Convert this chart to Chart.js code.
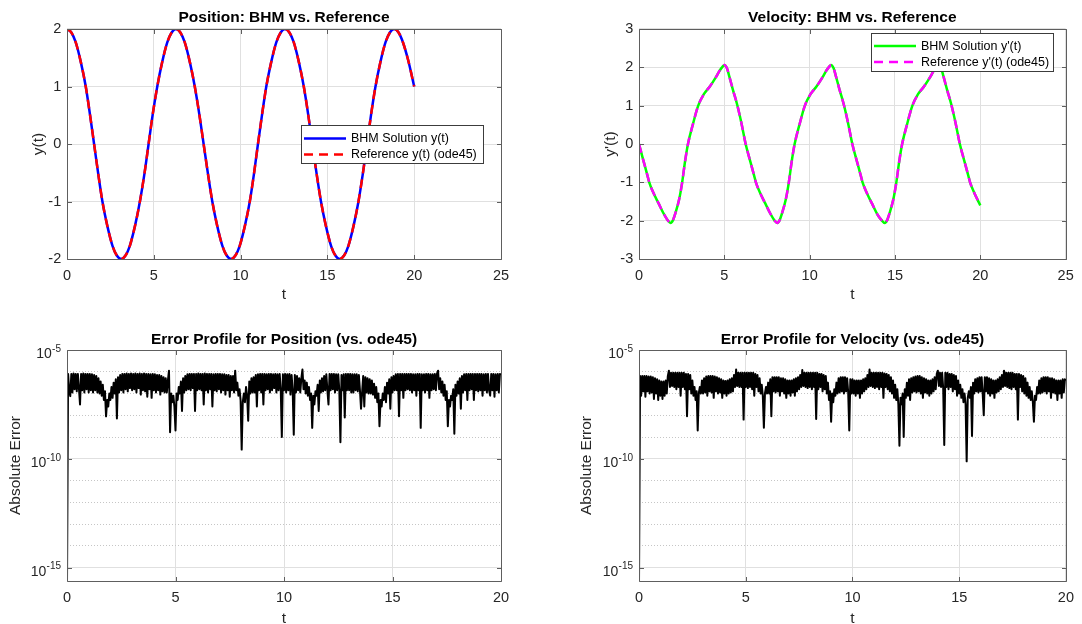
<!DOCTYPE html>
<html><head><meta charset="utf-8">
<script src="https://cdn.jsdelivr.net/npm/chart.js@4.4.1/dist/chart.umd.min.js"></script>
<style>
html,body{margin:0;padding:0;background:#fff;overflow:hidden;width:1082px;height:624px;}
canvas{position:absolute;}
</style></head><body>
<canvas id="c1" width="541" height="304" style="left:0;top:0;width:541px;height:304px"></canvas>
<canvas id="c2" width="541" height="304" style="left:541px;top:0;width:541px;height:304px"></canvas>
<canvas id="c3" width="541" height="320" style="left:0;top:310px;width:541px;height:320px"></canvas>
<canvas id="c4" width="541" height="320" style="left:541px;top:310px;width:541px;height:320px"></canvas>
<script>
// ---------------- data ----------------
const titles = ['Position: BHM vs. Reference', 'Velocity: BHM vs. Reference',
                'Error Profile for Position (vs. ode45)', 'Error Profile for Velocity (vs. ode45)'];
const posLabels = ['BHM Solution y(t)', 'Reference y(t) (ode45)'];
const velLabels = ["BHM Solution y'(t)", "Reference y'(t) (ode45)"];

const xTicksTop = [0, 5, 10, 15, 20, 25];
const xTicksBottom = [0, 5, 10, 15, 20];
const posYTicks = [-2, -1, 0, 1, 2];
const velYTicks = [-3, -2, -1, 0, 1, 2, 3];
const errDecades = [-15, -14, -13, -12, -11, -10, -9, -8, -7, -6, -5];
const errLabelDecades = [-15, -10, -5];

// position y(t)
const tPos = [0,0.25,0.5,0.8,1.08,1.32,1.56,1.8,2.04,2.32,2.62,2.87,3.12,
  3.37,3.62,3.92,4.2,4.46,4.7,4.94,5.2,5.48,5.78,6.03,6.28,
  6.53,6.78,7.08,7.36,7.62,7.87,8.12,8.37,8.65,8.95,9.2,9.45,
  9.7,9.95,10.25,10.53,10.77,11.0,11.24,11.48,11.76,12.06,12.31,12.56,
  12.81,13.06,13.36,13.64,13.89,14.13,14.38,14.63,14.91,15.21,15.46,15.71,
  15.96,16.21,16.51,16.79,17.04,17.28,17.52,17.77,18.05,18.35,18.6,18.85,
  19.1,19.35,19.65,20.0];
const yPos = [2,1.94,1.77,1.42,1.0,0.52,0,-0.52,-1.0,-1.42,-1.77,-1.94,-2,
  -1.94,-1.77,-1.42,-1.0,-0.52,0,0.52,1.0,1.42,1.77,1.94,2,
  1.94,1.77,1.42,1.0,0.52,0,-0.52,-1.0,-1.42,-1.77,-1.94,-2,
  -1.94,-1.77,-1.42,-1.0,-0.52,0,0.52,1.0,1.42,1.77,1.94,2,
  1.94,1.77,1.42,1.0,0.52,0,-0.52,-1.0,-1.42,-1.77,-1.94,-2,
  -1.94,-1.77,-1.42,-1.0,-0.52,0,0.52,1.0,1.42,1.77,1.94,2,
  1.94,1.77,1.46,1.0];

// velocity y'(t)
const tVel = [0,0.25,0.5,0.6,0.85,1.15,1.45,1.7,1.85,
  2.0,2.15,2.35,2.53,2.7,2.87,3.15,3.47,3.8,4.15,4.5,4.75,4.9,5.0,
  5.15,5.3,5.5,5.75,6.0,6.25,6.5,6.75,6.85,7.1,7.4,7.7,7.95,8.1,
  8.25,8.4,8.6,8.78,8.95,9.12,9.4,9.72,10.05,10.4,10.75,11.0,11.15,11.25,
  11.4,11.55,11.75,12.0,12.25,12.5,12.75,13.0,13.1,13.35,13.65,13.95,14.2,14.4,
  14.55,14.7,14.9,15.08,15.25,15.42,15.7,16.02,16.35,16.7,17.05,17.3,17.45,17.55,
  17.7,17.85,18.05,18.3,18.55,18.8,19.05,19.3,19.4,19.65,20.0];
const yVel = [0,-0.42,-0.83,-1.0,-1.28,-1.55,-1.82,-2.0,-2.06,
  -1.98,-1.78,-1.45,-1.0,-0.45,0,0.5,1.0,1.3,1.5,1.74,1.93,2.02,2.06,
  1.98,1.75,1.42,1.03,0.55,0,-0.42,-0.83,-1.0,-1.28,-1.55,-1.82,-2.0,-2.06,
  -1.98,-1.78,-1.45,-1.0,-0.45,0,0.5,1.0,1.3,1.5,1.74,1.93,2.02,2.06,
  1.98,1.75,1.42,1.03,0.55,0,-0.42,-0.83,-1.0,-1.28,-1.55,-1.82,-1.98,-2.06,
  -1.98,-1.78,-1.45,-1.0,-0.45,0,0.5,1.0,1.3,1.5,1.74,1.93,2.02,2.06,
  1.98,1.75,1.42,1.03,0.55,0,-0.42,-0.83,-1.0,-1.28,-1.6];

// absolute errors (log10), sampled every 0.05 in t from 0 to 20 (one row per unit of t)
const tErrStep = 0.05;
const posErrLog10 = [
  -15.7,-6.1,-6.85,-7.12,-6.1,-6.95,-6.08,-6.8,-6.1,-6.9,-6.1,-6.75,-7.5,-6.1,-6.85,-6.08,-6.95,-6.1,-6.8,-6.1,
  -6.95,-6.1,-6.85,-6.12,-6.95,-6.15,-6.85,-6.2,-6.95,-6.3,-7.0,-6.45,-7.1,-6.6,-7.3,-6.9,-8.05,-7.3,-7.6,-7.0,
  -7.3,-6.7,-7.2,-6.5,-7.0,-6.35,-8.15,-6.25,-6.95,-6.15,-6.85,-6.1,-6.95,-6.1,-6.8,-6.08,-6.9,-6.1,-6.75,-6.08,
  -6.85,-6.1,-6.8,-6.08,-6.95,-6.1,-6.75,-6.08,-7.05,-6.1,-6.85,-6.08,-6.9,-6.1,-7.15,-6.1,-6.8,-6.12,-7.2,-6.1,
  -6.85,-6.12,-6.95,-6.15,-6.85,-6.15,-7.05,-6.2,-6.9,-6.25,-6.95,-6.3,-6.95,-6.4,-5.95,-8.78,-7.0,-7.4,-7.1,-7.6,
  -8.7,-7.0,-7.3,-6.7,-7.0,-6.45,-7.8,-6.3,-6.95,-6.2,-6.85,-6.12,-6.8,-6.1,-6.85,-6.1,-6.75,-6.1,-7.8,-6.1,
  -6.85,-6.08,-6.8,-6.1,-6.85,-6.1,-7.5,-6.08,-6.85,-6.1,-6.95,-6.1,-6.8,-6.1,-7.6,-6.12,-6.85,-6.1,-6.9,-6.1,
  -6.8,-6.1,-6.95,-6.12,-6.85,-6.12,-7.05,-6.15,-6.85,-6.15,-7.15,-6.2,-6.85,-6.2,-6.95,-5.95,-6.85,-6.5,-7.1,-6.8,
  -7.3,-9.58,-7.4,-7.0,-7.4,-6.7,-7.1,-8.25,-6.45,-7.0,-6.3,-6.95,-6.25,-6.95,-6.15,-7.6,-6.12,-6.85,-6.1,-6.95,
  -6.1,-7.5,-6.1,-6.85,-6.12,-6.8,-6.1,-6.95,-6.1,-6.85,-6.12,-6.75,-6.1,-6.95,-6.12,-6.85,-6.1,-6.8,-9.0,-6.12,
  -6.85,-6.1,-6.95,-6.12,-6.85,-6.1,-7.05,-6.15,-6.85,-8.9,-6.15,-6.95,-6.2,-6.85,-6.3,-6.95,-6.3,-5.9,-6.8,-6.4,
  -7.0,-6.5,-7.1,-6.7,-7.3,-7.0,-8.58,-7.1,-7.5,-6.9,-7.1,-6.6,-7.8,-6.4,-6.95,-6.3,-6.9,-6.2,-6.85,-6.12,
  -6.85,-7.5,-6.1,-6.85,-6.1,-6.8,-6.1,-6.95,-6.12,-6.85,-6.12,-6.85,-9.24,-6.15,-6.85,-6.12,-8.1,-6.1,-6.85,-6.1,
  -6.85,-6.1,-6.95,-6.12,-6.95,-6.12,-6.85,-6.12,-6.9,-6.15,-6.85,-7.7,-6.95,-6.2,-7.6,-6.25,-6.95,-6.3,-7.0,-6.35,
  -7.0,-6.4,-7.05,-6.55,-7.2,-6.7,-7.4,-7.0,-8.5,-7.3,-7.6,-7.0,-7.3,-6.7,-7.4,-6.5,-7.0,-6.35,-7.7,-6.25,
  -6.95,-6.2,-6.85,-6.12,-6.85,-6.1,-8.05,-6.1,-6.85,-6.1,-7.2,-6.1,-6.85,-6.1,-6.8,-6.1,-6.85,-6.1,-6.95,-6.12,
  -6.85,-6.12,-7.1,-6.1,-6.85,-6.1,-8.58,-6.12,-6.85,-6.12,-6.95,-6.1,-6.85,-6.1,-7.2,-6.12,-6.85,-6.12,-6.8,-6.1,
  -6.85,-6.1,-5.95,-6.8,-6.3,-6.95,-6.45,-7.1,-6.6,-7.3,-6.9,-8.5,-7.3,-7.6,-7.1,-7.3,-6.8,-8.85,-6.6,-7.1,
  -6.45,-7.0,-6.3,-7.7,-6.2,-6.95,-6.12,-6.85,-6.1,-7.3,-6.1,-6.85,-6.1,-6.8,-6.1,-7.3,-6.1,-6.85,-6.1,-6.9,
  -6.1,-6.85,-6.1,-7.1,-6.12,-6.85,-6.1,-6.95,-6.1,-6.85,-7.1,-6.1,-6.85,-6.1,-7.15,-6.12,-6.85,-6.1,-6.95,-6.1,
  -6.15];
const velErrLog10 = [
  -15.7,-6.2,-7.1,-6.2,-6.9,-6.2,-7.15,-6.2,-6.9,-6.22,-7.0,-6.22,-6.95,-6.25,-7.25,-6.3,-7.0,-6.35,-7.3,-6.4,
  -7.1,-6.45,-7.25,-6.45,-7.1,-6.4,-7.0,-6.2,-5.95,-6.7,-6.05,-6.65,-6.05,-6.7,-6.05,-6.8,-6.05,-6.7,-6.05,-7.1,
  -6.05,-6.7,-6.05,-6.8,-6.1,-8.05,-6.1,-6.8,-6.15,-7.0,-6.4,-7.1,-6.7,-7.3,-6.9,-8.7,-7.0,-6.7,-7.0,-6.4,
  -7.0,-6.3,-6.95,-6.22,-7.1,-6.2,-6.9,-6.2,-6.95,-6.2,-7.2,-6.22,-6.9,-6.25,-7.0,-6.3,-6.95,-6.35,-7.2,-6.4,
  -7.0,-6.42,-7.1,-6.4,-7.0,-6.35,-6.95,-6.3,-6.9,-6.15,-6.7,-5.9,-6.65,-6.05,-6.7,-6.05,-6.7,-6.05,-8.2,-6.05,
  -6.7,-6.05,-6.75,-6.05,-6.7,-6.05,-6.8,-6.05,-7.1,-6.1,-6.7,-6.15,-6.9,-6.3,-7.0,-6.6,-7.1,-8.57,-7.0,-6.7,
  -7.0,-6.5,-7.0,-6.35,-8.05,-6.25,-6.9,-6.25,-6.95,-6.25,-6.9,-6.25,-7.1,-6.3,-6.9,-6.3,-7.0,-6.35,-7.2,-6.4,
  -7.0,-6.4,-7.1,-6.4,-6.95,-6.35,-7.1,-6.3,-6.9,-6.25,-6.8,-6.15,-6.7,-5.92,-6.65,-6.05,-6.7,-6.05,-6.75,-6.05,
  -6.7,-6.05,-6.8,-6.05,-6.7,-6.05,-8.17,-6.05,-6.8,-6.1,-6.7,-6.1,-6.9,-6.15,-6.8,-6.2,-7.0,-6.5,-7.3,-6.9,
  -8.3,-7.0,-7.4,-6.8,-7.1,-6.5,-7.0,-6.3,-6.95,-6.25,-6.9,-6.25,-7.0,-6.25,-6.9,-6.3,-6.95,-8.7,-6.35,-7.0,
  -6.35,-7.0,-6.4,-7.1,-6.4,-7.0,-6.4,-7.2,-6.4,-7.0,-6.35,-6.9,-6.3,-6.8,-6.15,-6.7,-5.9,-6.65,-6.05,-6.7,
  -6.05,-6.75,-6.05,-6.7,-6.05,-6.8,-6.05,-6.7,-6.05,-7.2,-6.08,-6.7,-6.1,-6.8,-6.15,-6.9,-6.25,-7.0,-6.4,-7.2,
  -6.6,-7.3,-6.8,-7.5,-9.4,-7.2,-7.5,-7.0,-9.0,-6.8,-7.2,-6.5,-7.1,-6.35,-7.3,-6.3,-6.95,-6.25,-6.9,-6.22,
  -6.95,-6.2,-6.9,-6.2,-7.0,-6.25,-7.2,-6.3,-6.95,-6.35,-7.0,-6.4,-7.1,-6.4,-7.0,-6.35,-6.9,-6.25,-6.8,-6.1,
  -5.95,-6.65,-6.05,-6.7,-6.05,-6.75,-9.37,-6.05,-6.7,-6.05,-6.8,-6.1,-6.7,-6.1,-6.9,-6.15,-6.8,-6.2,-7.1,-6.4,
  -7.0,-6.6,-7.2,-6.8,-7.4,-7.0,-7.5,-10.12,-7.2,-6.9,-7.2,-6.7,-8.95,-6.5,-7.0,-6.35,-6.9,-6.3,-6.95,-6.25,
  -6.9,-6.25,-7.0,-8.0,-6.25,-6.9,-6.25,-7.0,-6.3,-7.1,-6.35,-7.0,-6.4,-7.2,-6.4,-6.95,-6.35,-6.9,-6.25,-6.8,
  -6.15,-6.7,-5.95,-6.65,-6.05,-6.7,-6.05,-6.75,-6.05,-6.8,-6.05,-6.7,-6.1,-6.8,-6.1,-8.2,-6.1,-6.7,-6.15,-6.9,
  -6.2,-7.0,-6.3,-7.1,-6.5,-7.2,-6.7,-7.3,-6.9,-7.4,-8.3,-7.1,-7.3,-6.7,-7.0,-6.4,-7.0,-6.3,-6.95,-6.25,
  -6.9,-6.25,-7.0,-6.25,-6.9,-6.3,-7.2,-6.3,-6.95,-6.35,-7.0,-6.4,-7.3,-6.4,-7.0,-6.4,-7.2,-6.35,-6.95,-6.35,
  -6.4];

// ---------------- styling ----------------
const FONT = '"Liberation Sans", Arial, Helvetica, sans-serif';
const TXT = '#262626';
const GRID = '#e0e0e0';
const MINOR = '#c6c6c6';
const tickFont = { family: FONT, size: 14.5 };
const axisFont = { family: FONT, size: 15.5, lineHeight: 1.2 };
const errMin = 2.4e-16;

const pts = (xs, ys) => xs.map((x, i) => ({ x: x, y: ys[i] }));
const errPts = arr => arr.map((e, i) => ({ x: Math.round(i * tErrStep * 100) / 100, y: Math.pow(10, e) }));
const isLabeledDecade = v => errLabelDecades.includes(Math.round(Math.log10(v)));

function framePlugin(isLog) {
  return {
    id: 'frame',
    afterDraw(chart) {
      const { ctx, chartArea: a, scales } = chart;
      const L = Math.round(a.left) + 0.5, R = Math.round(a.right) + 0.5;
      const T = Math.round(a.top) + 0.5, B = Math.round(a.bottom) + 0.5;
      const tl = 4.5;
      ctx.save();
      ctx.strokeStyle = '#5e5e5e';
      ctx.lineWidth = 1;
      ctx.beginPath();
      ctx.rect(L, T, R - L, B - T);
      scales.x.ticks.forEach(t => {
        const px = Math.round(scales.x.getPixelForValue(t.value)) + 0.5;
        ctx.moveTo(px, B); ctx.lineTo(px, B - tl);
        ctx.moveTo(px, T); ctx.lineTo(px, T + tl);
      });
      scales.y.ticks.forEach(t => {
        if (isLog && !isLabeledDecade(t.value)) return;
        const py = Math.round(scales.y.getPixelForValue(t.value)) + 0.5;
        ctx.moveTo(L, py); ctx.lineTo(L + tl, py);
        ctx.moveTo(R, py); ctx.lineTo(R - tl, py);
      });
      ctx.stroke();
      ctx.restore();
    }
  };
}

function legendPlugin(lg) {
  return {
    id: 'boxLegend',
    afterDraw(chart) {
      const ctx = chart.ctx;
      ctx.save();
      ctx.fillStyle = '#ffffff';
      ctx.fillRect(lg.box[0], lg.box[1], lg.box[2], lg.box[3]);
      ctx.strokeStyle = '#3c3c3c';
      ctx.lineWidth = 1;
      ctx.strokeRect(Math.round(lg.box[0]) + 0.5, Math.round(lg.box[1]) + 0.5, Math.round(lg.box[2]), Math.round(lg.box[3]));
      chart.data.datasets.forEach((ds, k) => {
        const yy = lg.rows[k];
        ctx.strokeStyle = ds.borderColor;
        ctx.lineWidth = ds.borderWidth;
        ctx.setLineDash(ds.borderDash || []);
        ctx.beginPath(); ctx.moveTo(lg.line[0], yy); ctx.lineTo(lg.line[1], yy); ctx.stroke();
        ctx.setLineDash([]);
        ctx.fillStyle = '#000';
        ctx.font = '12.5px ' + FONT;
        ctx.textAlign = 'left';
        ctx.textBaseline = 'middle';
        ctx.fillText(ds.label, lg.textX, yy + 0.5);
      });
      ctx.restore();
    }
  };
}

function logLabelPlugin() {
  return {
    id: 'logLabels',
    afterDraw(chart) {
      const { ctx, chartArea: a, scales: { y } } = chart;
      ctx.save();
      ctx.fillStyle = TXT;
      ctx.textAlign = 'right';
      ctx.textBaseline = 'alphabetic';
      errLabelDecades.forEach(e => {
        const py = y.getPixelForValue(Math.pow(10, e));
        const xr = a.left - 6;
        const exp = String(e);
        ctx.font = '10px ' + FONT;
        const w = ctx.measureText(exp).width;
        ctx.fillText(exp, xr, py + 1.8);
        ctx.font = '14px ' + FONT;
        ctx.fillText('10', xr - w - 0.3, py + 8.2);
      });
      ctx.restore();
    }
  };
}

function makeChart(id, o) {
  const xScale = {
    type: 'linear', min: 0, max: o.xTicks[o.xTicks.length - 1],
    afterBuildTicks: s => { s.ticks = o.xTicks.map(v => ({ value: v })); },
    afterFit: s => { s.height = o.xH; },
    grid: { color: GRID, drawTicks: false, lineWidth: 1 },
    border: { display: false },
    ticks: { color: TXT, font: tickFont, padding: o.xTickPad, maxRotation: 0, autoSkip: false, callback: v => String(v) },
    title: { display: true, text: 't', color: TXT, font: axisFont, padding: { top: 0, bottom: o.xTitlePad } }
  };
  let yScale;
  if (o.log) {
    yScale = {
      type: 'logarithmic', min: errMin, max: 1e-5,
      afterBuildTicks: s => { s.ticks = errDecades.map(e => ({ value: Math.pow(10, e) })); },
      afterFit: s => { s.width = o.yW; },
      grid: { color: c => (c.tick && !isLabeledDecade(c.tick.value)) ? MINOR : GRID, drawTicks: false, lineWidth: 1 },
      border: { display: false, dash: c => (c.tick && !isLabeledDecade(c.tick.value)) ? [1, 2] : [] },
      ticks: { color: TXT, font: tickFont, padding: 6, autoSkip: false, callback: () => '' },
      title: { display: true, text: 'Absolute Error', color: TXT, font: axisFont, padding: { top: o.yTitlePad, bottom: 0 } }
    };
  } else {
    yScale = {
      type: 'linear', min: o.yTicks[0], max: o.yTicks[o.yTicks.length - 1],
      afterBuildTicks: s => { s.ticks = o.yTicks.map(v => ({ value: v })); },
      afterFit: s => { s.width = o.yW; },
      grid: { color: GRID, drawTicks: false, lineWidth: 1 },
      border: { display: false },
      ticks: { color: TXT, font: tickFont, padding: 5.8, autoSkip: false, callback: v => String(v) },
      title: { display: true, text: o.yTitle, color: TXT, font: axisFont, padding: { top: o.yTitlePad, bottom: 0 } }
    };
  }
  const plugins = [framePlugin(!!o.log)];
  if (o.legend) plugins.push(legendPlugin(o.legend));
  if (o.log) plugins.push(logLabelPlugin());
  return new Chart(document.getElementById(id), {
    type: 'line',
    data: { datasets: o.datasets },
    options: {
      responsive: false, animation: false, devicePixelRatio: 1, events: [],
      layout: { padding: { left: 0, right: o.padRight, top: 0, bottom: 0 } },
      elements: { point: { radius: 0, hoverRadius: 0 }, line: { borderJoinStyle: 'round', borderCapStyle: 'butt' } },
      plugins: {
        legend: { display: false },
        tooltip: { enabled: false },
        title: {
          display: true, fullSize: false, text: o.title, color: '#000',
          font: { family: FONT, size: 15.5, weight: 'bold', lineHeight: 1.2 },
          padding: { top: o.titleTop, bottom: o.titleBottom }
        }
      },
      scales: { x: xScale, y: yScale }
    },
    plugins: plugins
  });
}

const LW = 2.5;
const DASH = [9, 6];

makeChart('c1', {
  title: titles[0], xTicks: xTicksTop, yTicks: posYTicks, yTitle: 'y(t)',
  yW: 67, padRight: 40, xH: 45, xTickPad: 8.3, xTitlePad: 0, yTitlePad: 29.7,
  titleTop: 8.1, titleBottom: 2.3,
  legend: { box: [301, 125, 182, 38], line: [304, 346], textX: 351, rows: [138.5, 154.5] },
  datasets: [
    { label: posLabels[0], data: pts(tPos, yPos), borderColor: '#0000ff', borderWidth: LW, cubicInterpolationMode: 'monotone', order: 2 },
    { label: posLabels[1], data: pts(tPos, yPos), borderColor: '#ff0000', borderWidth: LW, borderDash: DASH, cubicInterpolationMode: 'monotone', order: 1 }
  ]
});

makeChart('c2', {
  title: titles[1], xTicks: xTicksTop, yTicks: velYTicks, yTitle: "y'(t)",
  yW: 98, padRight: 10, xH: 45, xTickPad: 8.3, xTitlePad: 0, yTitlePad: 60.7,
  titleTop: 8.1, titleBottom: 2.3,
  legend: { box: [330, 33, 182, 38], line: [333, 375], textX: 380, rows: [46, 62] },
  datasets: [
    { label: velLabels[0], data: pts(tVel, yVel), borderColor: '#00ff00', borderWidth: LW, cubicInterpolationMode: 'monotone', order: 2 },
    { label: velLabels[1], data: pts(tVel, yVel), borderColor: '#ff00ff', borderWidth: LW, borderDash: DASH, cubicInterpolationMode: 'monotone', order: 1 }
  ]
});

makeChart('c3', {
  title: titles[2], xTicks: xTicksBottom, log: true,
  yW: 67, padRight: 40, xH: 49, xTickPad: 8.0, xTitlePad: 2, yTitlePad: 6.2,
  titleTop: 20.1, titleBottom: 1.3,
  datasets: [
    { label: 'Position error', data: errPts(posErrLog10), borderColor: '#000000', borderWidth: 2, tension: 0 }
  ]
});

makeChart('c4', {
  title: titles[3], xTicks: xTicksBottom, log: true,
  yW: 98, padRight: 10, xH: 49, xTickPad: 8.0, xTitlePad: 2, yTitlePad: 36.3,
  titleTop: 20.1, titleBottom: 1.3,
  datasets: [
    { label: 'Velocity error', data: errPts(velErrLog10), borderColor: '#000000', borderWidth: 2, tension: 0 }
  ]
});
</script>
</body></html>
